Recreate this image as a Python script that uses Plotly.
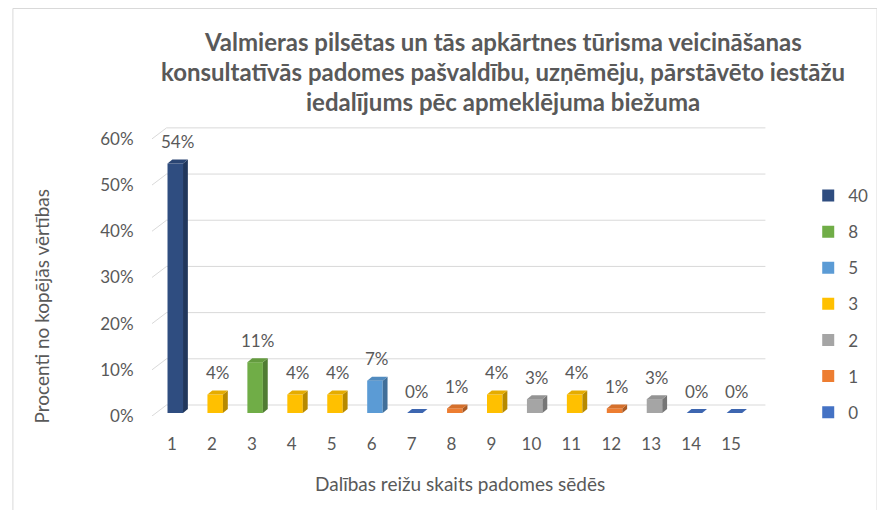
import plotly.graph_objects as go

# ---- data ----
categories = list(range(1, 16))
percent = [54, 4, 11, 4, 4, 7, 0, 1, 4, 3, 4, 1, 3, 0, 0]
counts = [40, 3, 8, 3, 3, 5, 0, 1, 3, 2, 3, 1, 2, 0, 0]
legend_order = [40, 8, 5, 3, 2, 1, 0]
colors = {40: "#2F4D80", 8: "#70AD47", 5: "#5B9BD5", 3: "#FFC000",
          2: "#A5A5A5", 1: "#ED7D31", 0: "#4472C4"}
y_ticks = [0, 10, 20, 30, 40, 50, 60]
title_lines = ["Valmieras pilsētas un tās apkārtnes tūrisma veicināšanas",
               "konsultatīvās padomes pašvaldību, uzņēmēju, pārstāvēto iestāžu",
               "iedalījums pēc apmeklējuma biežuma"]
y_title = "Procenti no kopējās vērtības"
x_title = "Dalības reižu skaits padomes sēdēs"

# ---- geometry (page pixels; page body has an 8px margin) ----
OFF = 8
W, H = 885 - OFF, 510 - OFF
PL, PR, PT, PB = 152, 790.6, 125, 416   # page coordinates of plot area
XR = [0.5, 16.0]
YR = [0, 63]
pxx = (PR - PL) / (XR[1] - XR[0])
pxy = (PB - PT) / (YR[1] - YR[0])


def xp(px):
    return (px - PL) / (PR - PL)


def yp(py):
    return (PB - py) / (PB - PT)


def shade(hexc, f):
    r, g, b = int(hexc[1:3], 16), int(hexc[3:5], 16), int(hexc[5:7], 16)
    return "#%02x%02x%02x" % (int(r * f), int(g * f), int(b * f))


base = 3 / pxy
bw = 16 / pxx
shift = 3.4 / pxx
dx = 5 / pxx
dy = 4 / pxy
back_dx = 15 / pxx
back_dy = 11 / pxy

TXT = "#595959"
FONT = "Lato"

fig = go.Figure()
for k in legend_order:
    xs = [c for c, n in zip(categories, counts) if n == k]
    ys = [p for p, n in zip(percent, counts) if n == k]
    fig.add_trace(go.Bar(
        x=xs, y=ys, base=base, width=bw, offset=-bw / 2 + shift,
        name=str(k), legendgroup=str(k),
        marker=dict(color=colors[k], line=dict(width=0)),
        hoverinfo="x+y",
    ))

shapes = []
for t in y_ticks:
    shapes.append(dict(type="line", xref="x", yref="y",
                       x0=XR[0] + back_dx, x1=15.86, y0=t + back_dy, y1=t + back_dy,
                       line=dict(color="#D9D9D9", width=1), layer="below"))
    shapes.append(dict(type="line", xref="x", yref="y",
                       x0=XR[0], x1=XR[0] + back_dx, y0=t, y1=t + back_dy,
                       line=dict(color="#D9D9D9", width=1), layer="below"))

annotations = []
for c, v, n in zip(categories, percent, counts):
    col = colors[n]
    xl = c - bw / 2 + shift
    xr = c + bw / 2 + shift
    y0 = base
    y1 = base + v
    if v > 0:
        shapes.append(dict(type="path", xref="x", yref="y",
                           path=f"M{xr},{y0} L{xr+dx},{y0+dy} L{xr+dx},{y1+dy} L{xr},{y1} Z",
                           fillcolor=shade(col, 0.72), line=dict(width=0)))
    shapes.append(dict(type="path", xref="x", yref="y",
                       path=f"M{xl},{y1} L{xr},{y1} L{xr+dx},{y1+dy} L{xl+dx},{y1+dy} Z",
                       fillcolor=shade(col, 0.9), line=dict(width=0)))
    annotations.append(dict(x=c + 6 / pxx, y=y1, xref="x", yref="y",
                            text=f"{v}%", showarrow=False, yanchor="middle",
                            yshift=22, font=dict(family=FONT, size=17, color=TXT)))

# chart border (left and top edges visible)
shapes.append(dict(type="rect", xref="paper", yref="paper",
                   x0=xp(OFF + 0.5), x1=xp(900), y0=yp(530), y1=yp(OFF + 0.5),
                   line=dict(color="#D9D9D9", width=1), fillcolor="rgba(0,0,0,0)"))

for line, py in zip(title_lines, [42, 72, 101]):
    annotations.append(dict(x=xp(514), y=yp(py), xref="paper", yref="paper",
                            text=f"<b>{line}</b>", showarrow=False,
                            xanchor="center", yanchor="middle",
                            font=dict(family=FONT, size=24, color=TXT)))

annotations.append(dict(x=xp(38), y=yp(306), xref="paper", yref="paper",
                        text=y_title, showarrow=False, textangle=-90,
                        xanchor="center", yanchor="middle",
                        font=dict(family=FONT, size=19, color=TXT)))
annotations.append(dict(x=xp(470), y=yp(483), xref="paper", yref="paper",
                        text=x_title, showarrow=False,
                        xanchor="center", yanchor="middle",
                        font=dict(family=FONT, size=19, color=TXT)))

fig.update_layout(
    width=W, height=H,
    margin=dict(l=PL - OFF, r=W - (PR - OFF), t=PT - OFF, b=H - (PB - OFF)),
    paper_bgcolor="white", plot_bgcolor="white",
    barmode="overlay",
    showlegend=True,
    legend=dict(x=xp(829), y=yp(178), xanchor="left", yanchor="top",
                font=dict(family=FONT, size=17, color=TXT),
                tracegroupgap=11, bgcolor="rgba(0,0,0,0)"),
    xaxis=dict(range=XR, tickmode="array", tickvals=categories,
               ticktext=[str(c) for c in categories],
               showgrid=False, zeroline=False, showline=False,
               ticks="outside", ticklen=13, tickcolor="rgba(0,0,0,0)",
               tickfont=dict(family=FONT, size=17, color=TXT)),
    yaxis=dict(range=YR, tickmode="array", tickvals=y_ticks,
               ticktext=[f"{t}%" for t in y_ticks],
               showgrid=False, zeroline=False, showline=False,
               ticks="outside", ticklen=14, tickcolor="rgba(0,0,0,0)",
               tickfont=dict(family=FONT, size=17, color=TXT)),
    shapes=shapes,
    annotations=annotations,
)

fig.write_html("out.html")
